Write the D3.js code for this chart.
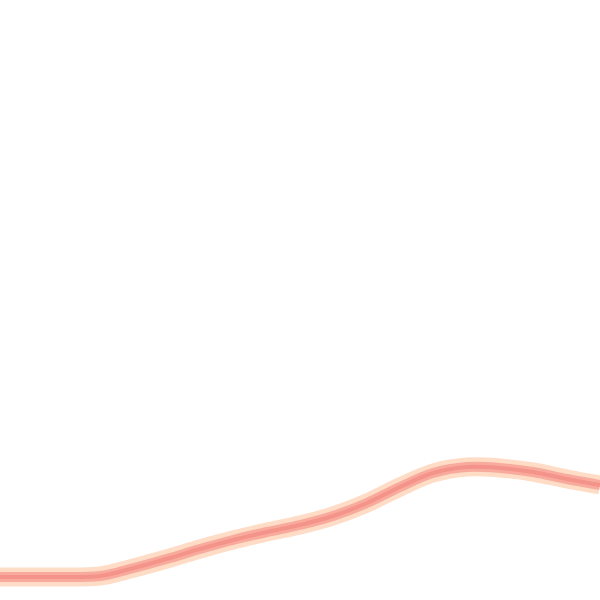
<!DOCTYPE html>
<html>
<head>
<meta charset="utf-8">
<script src="https://cdn.jsdelivr.net/npm/d3@7"></script>
<style>
  body { margin: 0; background: #fff; }
  svg { display: block; }
</style>
</head>
<body>
<svg id="chart"></svg>
<script>
(function() {

var width = 600,
    height = 600;

// values
var xs = [0, 50, 100, 130, 170, 200, 233, 267, 300, 333, 367, 400, 433, 467, 500, 533, 567, 600];
var values = [4.6, 4.6, 4.8, 6.2, 8.4, 10.2, 12, 13.6, 15, 16.8, 19.4, 22.6, 25.4, 26.6, 26.4, 25.6, 24.2, 23];

var svg = d3.select("#chart")
  .attr("width", width)
  .attr("height", height);

var x = d3.scaleLinear()
  .domain([0, 600])
  .range([0, width]);

var y = d3.scaleLinear()
  .domain([0, 120])
  .range([height, 0]);

var data = xs.map(function(d, i) { return [d, values[i]]; });

var line = d3.line()
  .x(function(d) { return x(d[0]); })
  .y(function(d) { return y(d[1]); })
  .curve(d3.curveCatmullRom.alpha(0.5));

// soft halo, body, core
[["#fedcc6", 19], ["#f8ab9c", 10], ["#f4938a", 4]].forEach(function(s) {
  svg.append("path")
    .datum(data)
    .attr("fill", "none")
    .attr("stroke", s[0])
    .attr("stroke-width", s[1])
    .attr("stroke-linejoin", "round")
    .attr("d", line);
});

})();
</script>
</body>
</html>
